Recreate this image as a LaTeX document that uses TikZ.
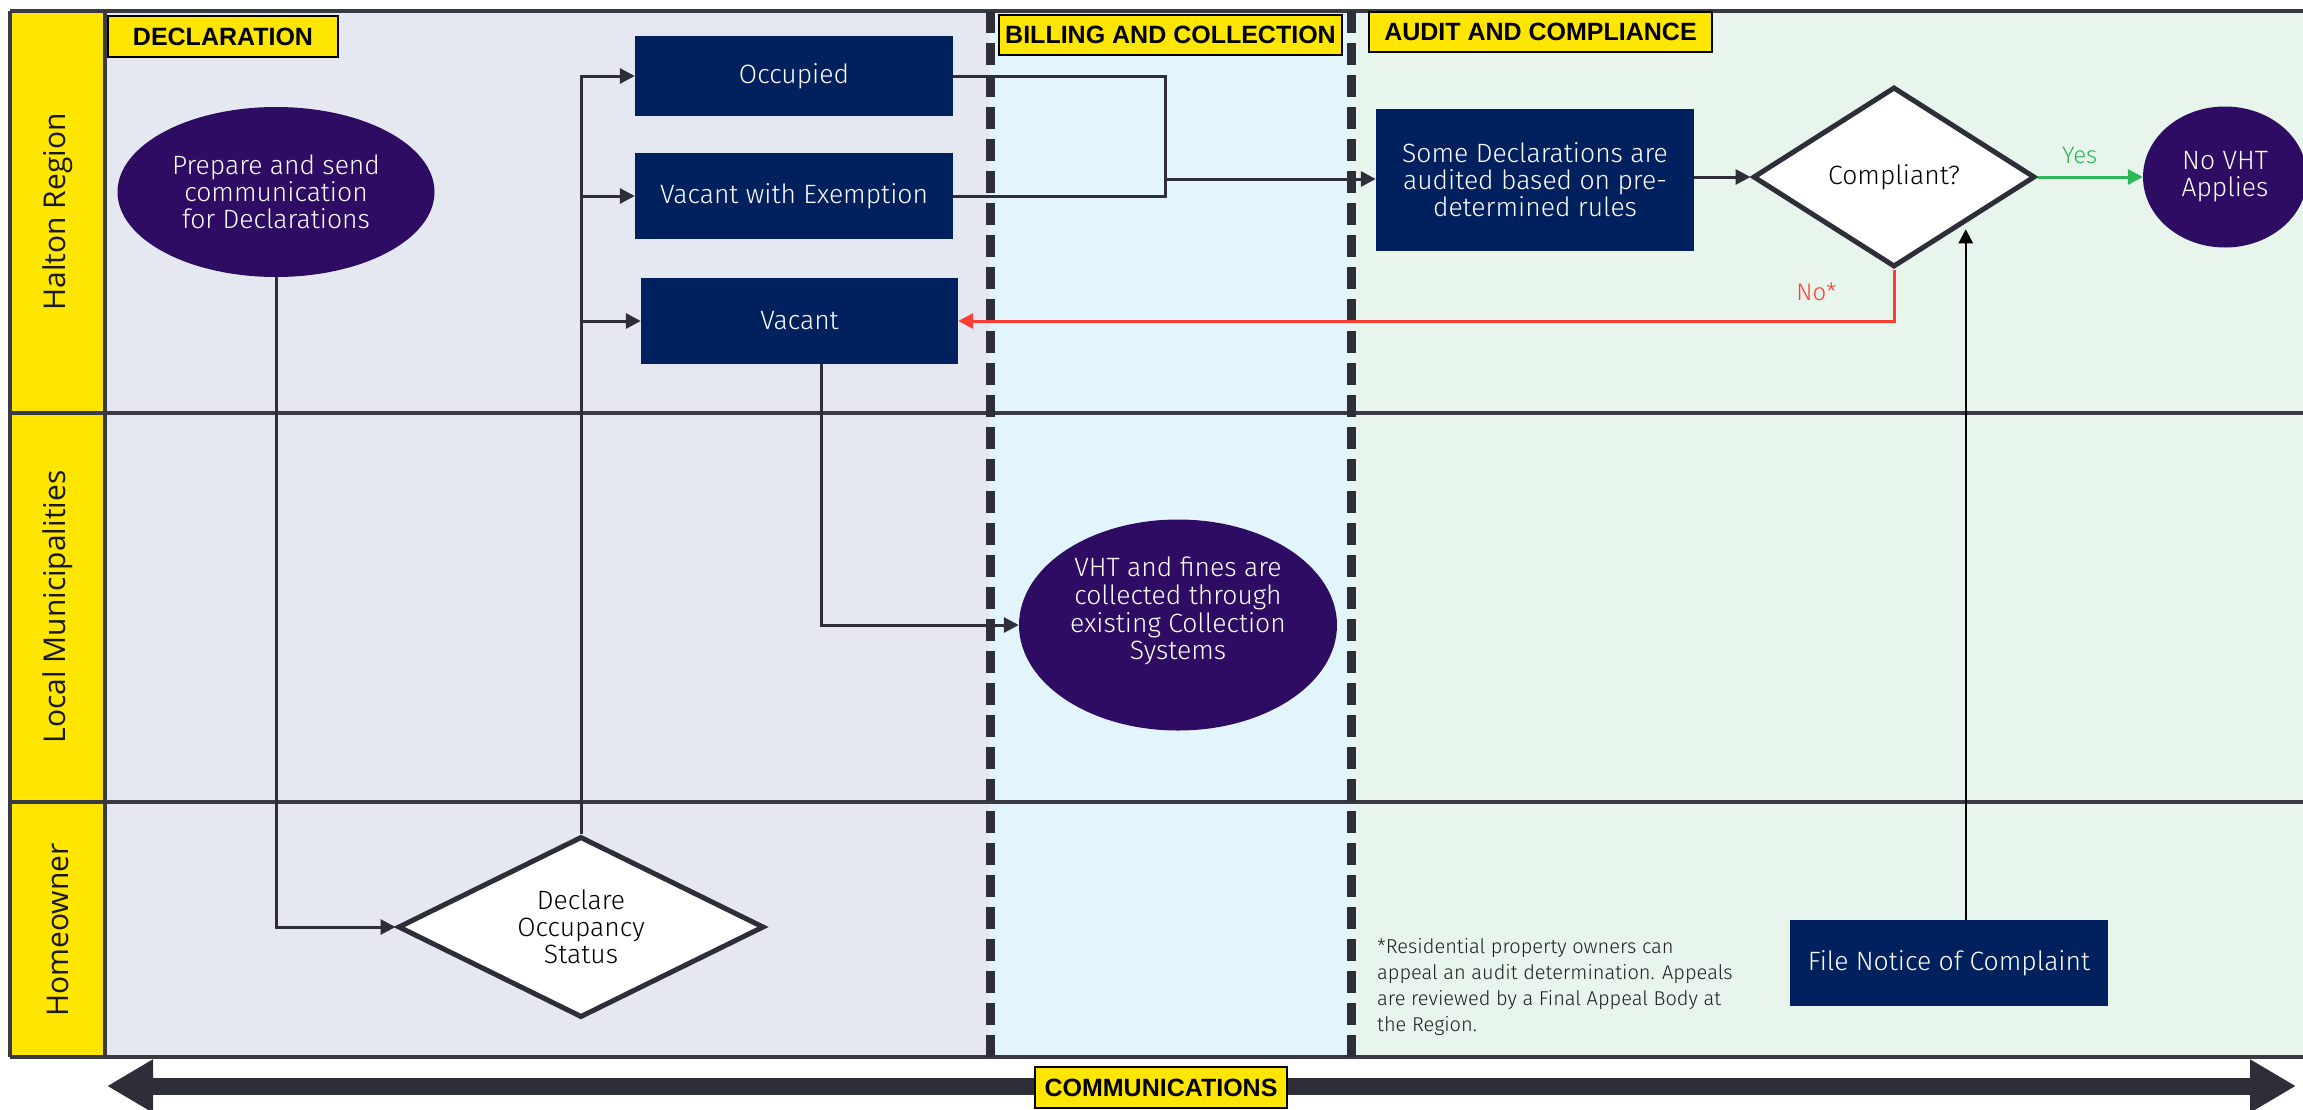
\documentclass[tikz,border=0pt]{standalone}
\usepackage{fontspec}
\setmainfont{Fira Sans Light}
\newfontfamily\lanefnt{Open Sans}
\newfontfamily\hdrfamily{Liberation Sans}
\usetikzlibrary{arrows.meta,shapes.geometric,calc}
\definecolor{laneyellow}{HTML}{FFE600}
\definecolor{declbg}{HTML}{E5E8F1}
\definecolor{billbg}{HTML}{E3F5FC}
\definecolor{auditbg}{HTML}{E8F5EC}
\definecolor{navy}{HTML}{00205E}
\definecolor{purp}{HTML}{2E0C63}
\definecolor{ink}{HTML}{2E2E38}
\definecolor{noRed}{HTML}{FF3D35}
\definecolor{yesGreen}{HTML}{2DB757}
\definecolor{framec}{HTML}{3A3A44}
\newcommand\bodyfnt{\fontsize{26.5}{27}\selectfont}
\newcommand\hdrfnt{\hdrfamily\bfseries\fontsize{25}{27}\selectfont}
\begin{document}
\begin{tikzpicture}[x=1pt,y=-1pt,
  navybox/.style={rectangle, fill=navy, text=white, minimum width=318pt, inner sep=0pt, font=\bodyfnt, align=center},
  purpell/.style={ellipse, fill=purp, text=white, inner sep=0pt, font=\bodyfnt, align=center},
  decision/.style={diamond, draw=ink, line width=5pt, fill=white, inner sep=0pt, text=black, font=\bodyfnt, align=center},
  hdr/.style={rectangle, fill=laneyellow, draw=black, line width=2pt, inner sep=0pt, text=black, font=\hdrfnt},
  lanelabel/.style={rotate=90, text=black!90, font=\lanefnt\fontsize{30}{32}\selectfont, inner sep=0pt},
  lanerule/.style={draw=framec, line width=3.5pt},
  swim/.style={draw=ink, line width=9pt, dash pattern=on 22pt off 10pt},
  plain/.style={draw=ink, line width=3pt},
  conn/.style={plain, -{Triangle[length=15pt,width=15pt]}},
  noconn/.style={draw=noRed, line width=3pt, -{Triangle[length=15pt,width=15pt]}},
  yesconn/.style={draw=yesGreen, line width=3pt, -{Triangle[length=15pt,width=15pt]}},
  upconn/.style={draw=black, line width=2.5pt, -{Triangle[length=14pt,width=14pt]}},
  bigarrow/.style={draw=ink, line width=17pt, {Triangle[length=46pt,width=50pt]}-{Triangle[length=46pt,width=50pt]}},
  edgelabel/.style={inner sep=0pt, font=\fontsize{24}{26}\selectfont}
]
\useasboundingbox (0,0) rectangle (2303,1109);
\clip (0,0) rectangle (2303,1109);

% column backgrounds
\fill[declbg] (105,11) rectangle (990,1057);
\fill[billbg] (990,11) rectangle (1351,1057);
\fill[auditbg] (1351,11) rectangle (2303,1057);
\fill[laneyellow] (10,11) rectangle (105,1057);

% lane rules
\draw[lanerule] (10,11) -- (2303,11);
\draw[lanerule] (10,413) -- (2303,413);
\draw[lanerule] (10,802) -- (2303,802);
\draw[lanerule] (10,1057) -- (2303,1057);
\draw[lanerule] (10,11) -- (10,1057);
\draw[lanerule] (105,11) -- (105,1057);

% phase separators
\draw[swim] (990,11) -- (990,1057);
\draw[swim] (1351,11) -- (1351,1057);

% lane labels
\node[lanelabel] (lhr) at (57.5,212) {Halton Region};
\node[lanelabel] (llm) at (57.5,607) {Local Municipalities};
\node[lanelabel] (lho) at (57.5,930) {Homeowner};

% phase headers
\node[hdr, minimum width=230pt, minimum height=41pt] (hdecl) at (223,36.5) {DECLARATION};
\node[hdr, minimum width=343pt, minimum height=40pt] (hbill) at (1170.5,35) {BILLING AND COLLECTION};
\node[hdr, minimum width=343pt, minimum height=40pt] (haudit) at (1540.5,32) {AUDIT AND COMPLIANCE};

% process nodes
\node[purpell, minimum width=317pt, minimum height=170pt] (prep) at (276,192) {Prepare and send\\communication\\for Declarations};
\node[navybox, minimum height=80pt] (occ) at (794,76) {Occupied};
\node[navybox, minimum height=86pt] (vwe) at (794,196) {Vacant with Exemption};
\node[navybox, minimum width=317pt, minimum height=86pt] (vac) at (799.5,321) {Vacant};
\node[decision, shape aspect=2, minimum width=366pt, minimum height=181pt] (decl) at (581,927) {Declare\\Occupancy\\Status};
\node[purpell, minimum width=318pt, minimum height=211pt] (vht) at (1178,625)
  {\begin{tabular}{@{}c@{}}VHT and fines are\\collected through\\existing Collection\\Systems\\[26pt]\end{tabular}};
\node[navybox, minimum height=142pt] (audit) at (1535,180) {Some Declarations are\\audited based on pre-\\determined rules};
\node[decision, minimum width=282pt, minimum height=180pt] (compl) at (1894,177) {Compliant?};
\node[purpell, minimum width=164pt, minimum height=141pt] (novht) at (2225,177) {No VHT\\Applies};
\node[navybox, minimum height=86pt] (file) at (1949,963) {File Notice of Complaint};

% footnote
\node[anchor=north west, align=left, inner sep=0pt, text=black!88, font=\fontsize{20}{26}\selectfont] (note) at (1377,938)
  {*Residential property owners can\\appeal an audit determination. Appeals\\are reviewed by a Final Appeal Body at\\the Region.};

% connectors
\coordinate (jn) at (1165,179);
\draw[conn] (prep.south) |- (decl.west);
\draw[conn] (decl.north) |- (occ.west);
\draw[conn] (decl.north) |- (vwe.west);
\draw[conn] (decl.north) |- (vac.west);
\draw[plain] (occ.east) -| (jn);
\draw[plain] (vwe.east) -| (jn);
\draw[conn] (jn) -- (jn -| audit.west);
\draw[conn] (audit.east |- compl.west) -- (compl.west);
\draw[yesconn] (compl.east) -- node[edgelabel, pos=0.4, above=12pt, text=yesGreen] {Yes} (novht.west);
\draw[noconn] (compl.south) |- node[edgelabel, pos=0.22, left=56pt, text=noRed] {No*} (vac.east);
\draw[conn] ([xshift=22pt]vac.south) |- (vht.west);
\draw[upconn, shorten >=6pt] (file.north -| compl.south east) -- (compl.south east);

% communications band
\coordinate (cl) at (107,1086);
\coordinate (cr) at (2296,1086);
\draw[bigarrow] (cl) -- (cr);
\node[hdr, minimum width=252pt, minimum height=41pt] (hcomm) at (1161,1087.5) {COMMUNICATIONS};
\end{tikzpicture}
\end{document}
